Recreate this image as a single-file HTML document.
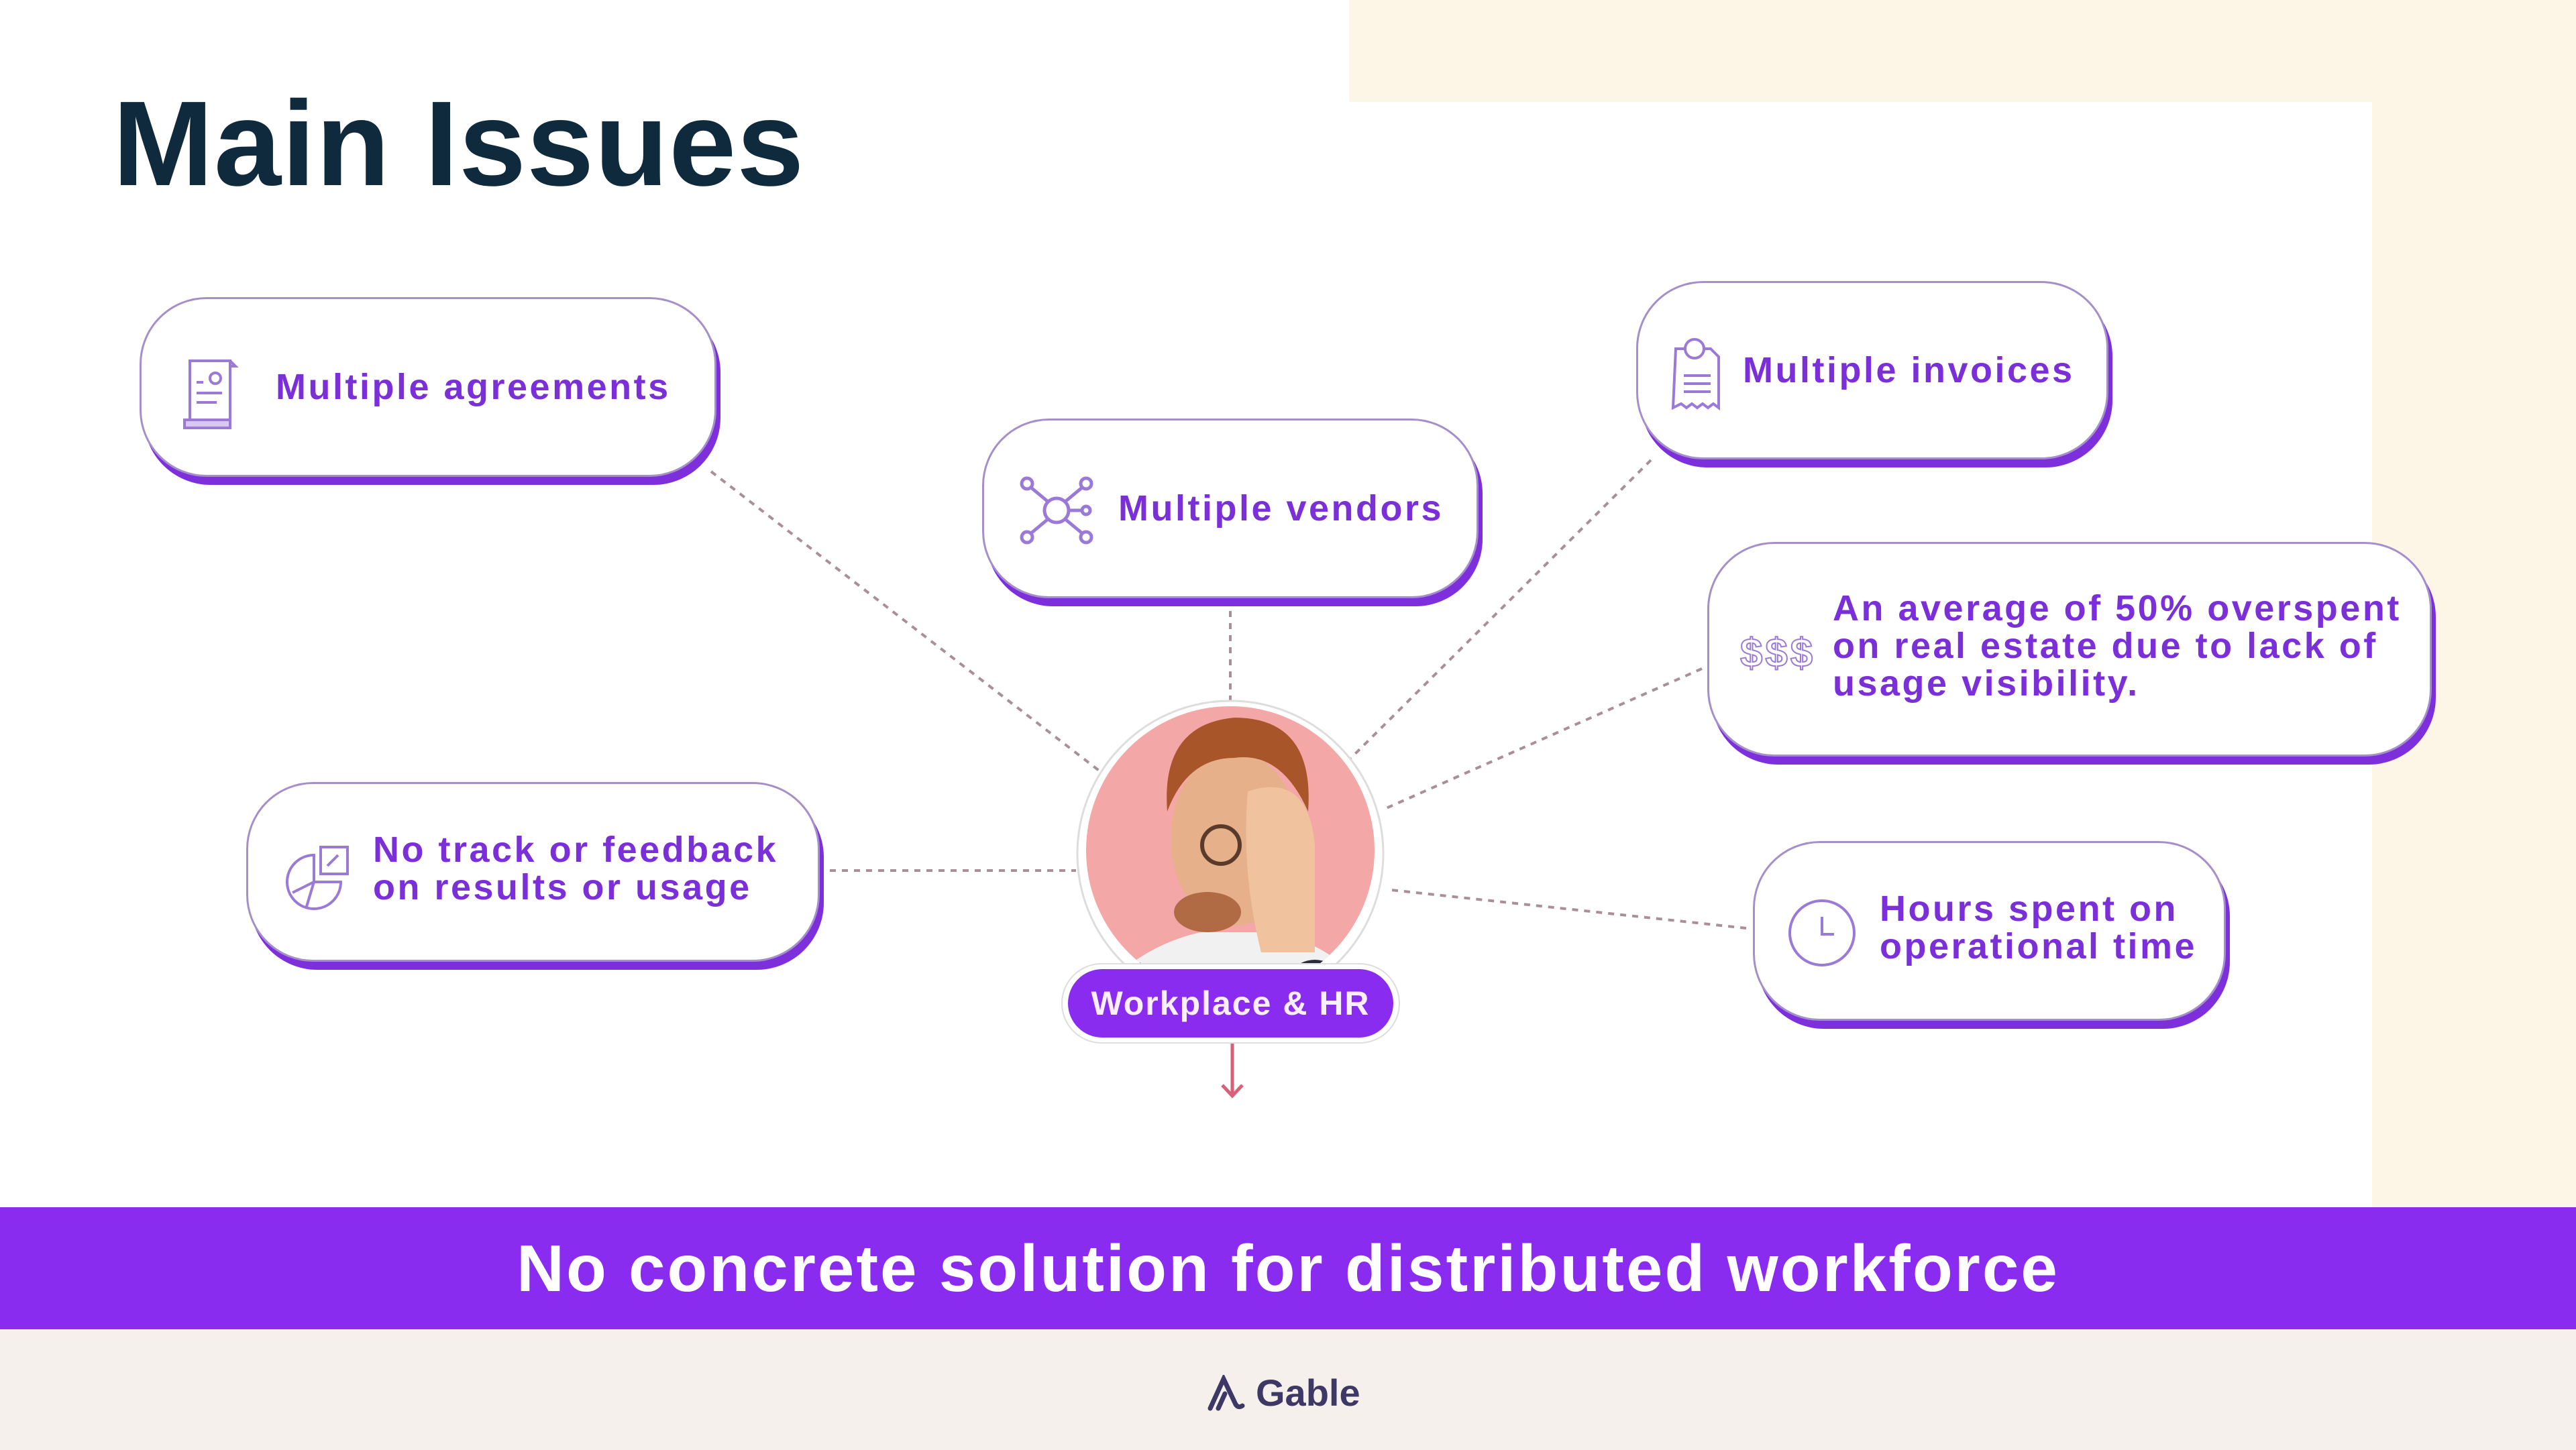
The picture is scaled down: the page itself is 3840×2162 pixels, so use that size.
<!DOCTYPE html>
<html><head><meta charset="utf-8"><style>
*{margin:0;padding:0;box-sizing:border-box}
body{width:3840px;height:2162px;position:relative;overflow:hidden;background:#fff;font-family:"Liberation Sans",sans-serif}
.abs{position:absolute}
.box{position:absolute;background:#fff;border:3px solid #a58fcb;border-radius:100px;box-shadow:6px 12px 0 0 #7d2fdc;display:flex;align-items:center}
.t{color:#7b2fd9;font-weight:bold;font-size:54px;line-height:56px;letter-spacing:3.5px;white-space:nowrap}
.ic{position:absolute}
</style></head><body>
<div class="abs" style="left:2011px;top:0;width:1829px;height:1800px;background:#fdf6e6"></div>
<div class="abs" style="left:0;top:152px;width:3536px;height:1648px;background:#fff"></div>
<div class="abs" style="left:0;top:0;width:2011px;height:152px;background:#fff"></div>
<div class="abs" style="left:168px;top:105px;font-size:180px;font-weight:bold;color:#0f2a3d;letter-spacing:1px;line-height:220px">Main Issues</div>

<svg class="abs" style="left:0;top:0" width="3840" height="1800">
<g stroke="#a88f98" stroke-width="4" stroke-dasharray="9 9" fill="none">
<line x1="1060" y1="703" x2="1641" y2="1151"/>
<line x1="1834" y1="911" x2="1834" y2="1070"/>
<line x1="2461" y1="686" x2="2013" y2="1131"/>
<line x1="2537" y1="997" x2="2062" y2="1207"/>
<line x1="1237" y1="1298" x2="1604" y2="1298"/>
<line x1="2603" y1="1384" x2="2074" y2="1327"/>
</g>
<circle cx="1834" cy="1273" r="228" fill="#fff" stroke="#ddd" stroke-width="3"/>
<clipPath id="c"><circle cx="1834" cy="1268" r="215"/></clipPath>
<g clip-path="url(#c)">
<rect x="1600" y="1040" width="480" height="470" fill="#f4a7a7"/>
<path d="M1640 1480 Q1700 1410 1790 1390 L1900 1390 Q1990 1410 2040 1480 L2040 1520 L1640 1520Z" fill="#f1f1f1"/>
<g stroke="#2a2a3a" stroke-width="8" fill="none"><path d="M1660 1440 q20 -10 40 0 t40 0"/><path d="M1650 1470 q20 -10 40 0 t40 0"/><path d="M1940 1440 q20 -10 40 0 t40 0"/><path d="M1950 1470 q20 -10 40 0 t40 0"/></g>
<ellipse cx="1840" cy="1250" rx="95" ry="130" fill="#e6b08a"/>
<path d="M1740 1210 Q1730 1080 1840 1070 Q1960 1070 1950 1210 Q1910 1120 1840 1130 Q1770 1130 1740 1210Z" fill="#a8552a"/>
<ellipse cx="1800" cy="1360" rx="50" ry="30" fill="#b06a44"/>
<path d="M1860 1180 Q1950 1150 1960 1260 L1960 1420 L1880 1420 Q1850 1300 1860 1180Z" fill="#f0c39e"/>
<circle cx="1820" cy="1260" r="28" fill="none" stroke="#5a3a2a" stroke-width="6"/>
</g>
<path d="M1837 1555 L1837 1632 M1822 1618 L1837 1634 L1852 1618" stroke="#d9607a" stroke-width="5" fill="none"/>
</svg>

<div class="abs" style="left:1582px;top:1436px;width:505px;height:120px;border-radius:60px;background:#fff;border:2px solid #ddd"></div>
<div class="abs" style="left:1592px;top:1445px;width:485px;height:102px;border-radius:51px;background:#8a2cf0;color:#fbeeff;font-weight:bold;font-size:50px;line-height:102px;text-align:center;letter-spacing:2px">Workplace &amp; HR</div>

<div class="box" style="left:208px;top:443px;width:860px;height:268px">
<svg class="ic" style="left:52px;top:80px" width="120" height="120" viewBox="0 0 60 60"><g fill="none" stroke="#9a7ad6" stroke-width="2"><path d="M10 6h30v44H10z"/><path d="M40 6l4 4h-4"/><path d="M6 50h34v6H6z" fill="#d9c8f3"/><line x1="15" y1="22" x2="20" y2="22"/><line x1="15" y1="30" x2="34" y2="30"/><line x1="15" y1="37" x2="30" y2="37"/><circle cx="29" cy="19" r="4"/></g></svg>
<div class="t" style="position:absolute;left:200px">Multiple agreements</div></div>

<div class="box" style="left:1464px;top:624px;width:740px;height:268px">
<svg class="ic" style="left:48px;top:78px" width="120" height="110" viewBox="0 0 60 55"><g fill="none" stroke="#9a7ad6" stroke-width="2.5"><circle cx="30" cy="28" r="9"/><circle cx="8" cy="8" r="4"/><circle cx="52" cy="8" r="4"/><circle cx="8" cy="48" r="4"/><circle cx="52" cy="48" r="4"/><circle cx="52" cy="28" r="3"/><path d="M11 11L23 21M49 11L37 21M11 45L23 35M49 45L37 35M39 28H49"/></g></svg>
<div class="t" style="position:absolute;left:200px">Multiple vendors</div></div>

<div class="box" style="left:2439px;top:419px;width:704px;height:266px">
<svg class="ic" style="left:44px;top:78px" width="90" height="120" viewBox="0 0 45 60"><g fill="none" stroke="#9a7ad6" stroke-width="2"><path d="M6 10h26l6 6v38l-4-3-4 3-4-3-4 3-4-3-4 3-4-3-6 3z"/><circle cx="20" cy="10" r="7" fill="#fff"/><line x1="12" y1="30" x2="32" y2="30"/><line x1="12" y1="36" x2="32" y2="36"/><line x1="12" y1="42" x2="32" y2="42"/></g></svg>
<div class="t" style="position:absolute;left:156px">Multiple invoices</div></div>

<div class="box" style="left:2545px;top:808px;width:1080px;height:320px">
<div style="position:absolute;left:46px;top:128px;color:#fff;-webkit-text-stroke:2px #9a7ad6;font-size:60px;font-weight:bold;letter-spacing:4px">$$$</div>
<div class="t" style="position:absolute;left:184px;top:68px">An average of 50% overspent<br>on real estate due to lack of<br>usage visibility.</div></div>

<div class="box" style="left:367px;top:1166px;width:855px;height:268px">
<svg class="ic" style="left:46px;top:78px" width="120" height="120" viewBox="0 0 60 60"><g fill="none" stroke="#9a7ad6" stroke-width="2"><path d="M26 14A20 20 0 1 0 46 34H26z"/><path d="M31 8h20v20H31z"/><path d="M26 34L20 54M26 34L10 42"/><path d="M36 22l8-8"/></g></svg>
<div class="t" style="position:absolute;left:186px;top:70px">No track or feedback<br>on results or usage</div></div>

<div class="box" style="left:2613px;top:1254px;width:705px;height:268px">
<svg class="ic" style="left:46px;top:80px" width="110" height="110" viewBox="0 0 55 55"><g fill="none" stroke="#9a7ad6" stroke-width="2"><circle cx="27" cy="27" r="24"/><path d="M27 15v13h9"/></g></svg>
<div class="t" style="position:absolute;left:186px;top:70px">Hours spent on<br>operational time</div></div>

<div class="abs" style="left:0;top:1800px;width:3840px;height:182px;background:#8a2cf0;color:#fff;font-weight:bold;font-size:98px;line-height:182px;text-align:center;letter-spacing:3px">No concrete solution for distributed workforce</div>
<div class="abs" style="left:0;top:1982px;width:3840px;height:180px;background:#f6f0ec"></div>
<svg class="abs" style="left:1798px;top:2050px" width="60" height="54" viewBox="0 0 60 54"><path d="M6 50L26 6L44 44Q48 50 54 46" fill="none" stroke="#3d3866" stroke-width="7" stroke-linecap="round"/><path d="M18 50L28 28" stroke="#3d3866" stroke-width="7" stroke-linecap="round"/></svg>
<div class="abs" style="left:1872px;top:2042px;font-size:56px;font-weight:bold;color:#3d3866;line-height:70px">Gable</div>
</body></html>
